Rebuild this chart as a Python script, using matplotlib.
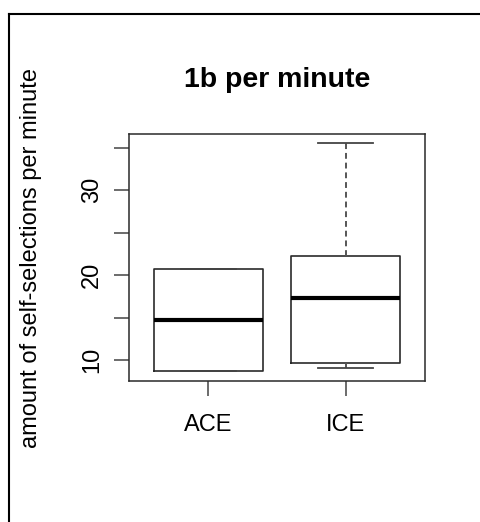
import matplotlib.pyplot as plt
from matplotlib.lines import Line2D

# datos
grupos = ['ACE', 'ICE']
bigote_inf = [8.7, 9.1]
cuartil1 = [8.7, 9.7]
mediana = [14.7, 17.3]
cuartil3 = [20.7, 22.2]
bigote_sup = [20.7, 35.6]

plt.rcParams['font.family'] = ['Liberation Sans', 'DejaVu Sans']

fig = plt.figure(figsize=(4.81, 5.22), dpi=100)
ax = fig.add_axes([129/481, 1 - 381/522, 296/481, 247/522])

stats = []
for i in range(len(grupos)):
    stats.append({'label': grupos[i], 'whislo': bigote_inf[i], 'q1': cuartil1[i],
                  'med': mediana[i], 'q3': cuartil3[i], 'whishi': bigote_sup[i],
                  'fliers': []})

color = '#2a2a2a'
ax.bxp(stats, positions=[1, 2], widths=0.8, showfliers=False,
       boxprops=dict(color=color, linewidth=1.2),
       medianprops=dict(color='black', linewidth=3.0, solid_capstyle='butt'),
       whiskerprops=dict(color='#555555', linewidth=1.4, linestyle=(0, (3.0, 2.0))),
       capprops=dict(color='#444444', linewidth=1.3), capwidths=0.4)

ax.set_xlim(0.42, 2.58)
ax.set_ylim(7.55, 36.6)

ax.set_yticks([10, 15, 20, 25, 30, 35])
ax.set_yticklabels(['10', '', '20', '', '30', ''], rotation=90, va='center')
ax.set_xticks([1, 2])
ax.set_xticklabels(grupos)

ax.tick_params(axis='both', length=10.8, width=1.1, color='#444444', labelsize=17)
ax.tick_params(axis='y', pad=8)
ax.tick_params(axis='x', pad=13)
for s in ax.spines.values():
    s.set_color(color)
    s.set_linewidth(1.1)

# título y etiqueta del eje y
fig.text(277/481, 1 - 87/522, '1b per minute', ha='center', va='baseline',
         fontsize=20.5, fontweight='bold')
fig.text(31/481, 1 - 258/522, 'amount of self-selections per minute',
         rotation=90, ha='center', va='center', fontsize=17)

# marco de la captura
fig.add_artist(Line2D([9/481, 1], [1 - 14/522, 1 - 14/522], color='black', linewidth=1.5,
                      transform=fig.transFigure))
fig.add_artist(Line2D([9/481, 9/481], [0, 1 - 14/522], color='black', linewidth=1.5,
                      transform=fig.transFigure))

fig.savefig('out.png', dpi=100)
